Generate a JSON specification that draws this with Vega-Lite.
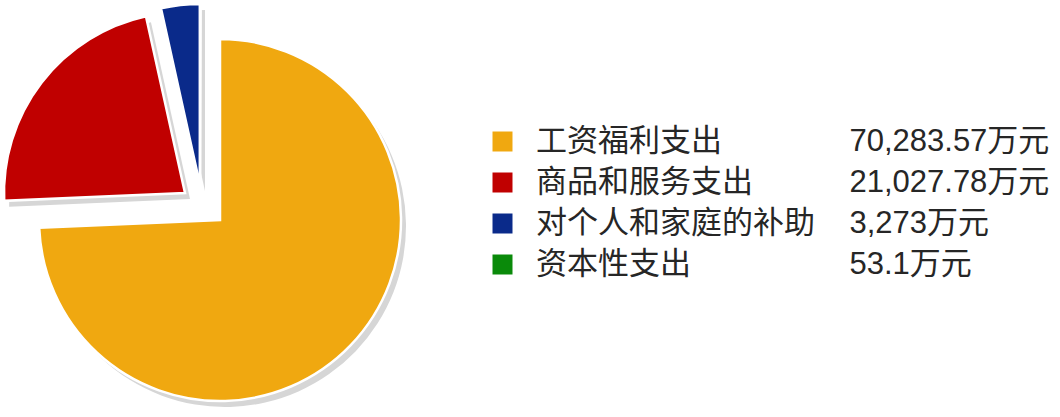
{
  "$schema": "https://vega.github.io/schema/vega-lite/v6.json",
  "width": 440,
  "height": 394,
  "autosize": {"type": "none"},
  "padding": {"left": 0, "top": 23, "right": 620, "bottom": 0},
  "background": "white",
  "view": {"stroke": null},
  "data": {
    "values": [
      {"name": "工资福利支出", "value": 70283.57},
      {"name": "商品和服务支出", "value": 21027.78},
      {"name": "对个人和家庭的补助", "value": 3273},
      {"name": "资本性支出", "value": 53.1}
    ]
  },
  "transform": [
    {"stack": "value", "groupby": [], "sort": [{"field": "value", "order": "descending"}], "as": ["v0", "v1"]},
    {"calculate": "pad(datum.name, 9, '\u3000') + '\u00a0\u00a0\u00a0\u00a0' + format(datum.value, ',') + '万元'", "as": "label"}
  ],
  "encoding": {
    "theta": {"field": "v0", "type": "quantitative"},
    "theta2": {"field": "v1"},
    "color": {
      "field": "label",
      "type": "nominal",
      "sort": {"field": "value", "op": "max", "order": "descending"},
      "scale": {"range": ["#F0A810", "#C00000", "#0A2A8A", "#0A8A0A"]},
      "legend": {
        "orient": "none",
        "legendX": 487,
        "legendY": 103,
        "title": null,
        "symbolType": "square",
        "symbolSize": 400,
        "symbolStrokeWidth": 0,
        "symbolOpacity": 1,
        "labelFont": "Liberation Sans, Noto Sans CJK SC",
        "labelFontSize": 31,
        "labelColor": "#262626",
        "labelOffset": 18,
        "labelLimit": 1000,
        "rowPadding": 9,
        "padding": 0
      }
    }
  },
  "layer": [
    {
      "transform": [{"filter": "datum.name === '工资福利支出'"}],
      "mark": {"type": "arc", "outerRadius": 181, "xOffset": 5, "yOffset": 6},
      "encoding": {"color": {"value": "#D6D6D6"}}
    },
    {
      "transform": [{"filter": "datum.name === '商品和服务支出'"}],
      "mark": {"type": "arc", "outerRadius": 181, "xOffset": -30, "yOffset": -21},
      "encoding": {"color": {"value": "#D6D6D6"}}
    },
    {
      "transform": [{"filter": "datum.name === '对个人和家庭的补助'"}],
      "mark": {"type": "arc", "outerRadius": 181, "xOffset": -15, "yOffset": -29},
      "encoding": {"color": {"value": "#D6D6D6"}}
    },
    {
      "transform": [{"filter": "datum.name === '工资福利支出'"}],
      "mark": {"type": "arc", "outerRadius": 181, "stroke": "white", "strokeWidth": 2.5}
    },
    {
      "transform": [{"filter": "datum.name === '商品和服务支出'"}],
      "mark": {"type": "arc", "outerRadius": 181, "stroke": "white", "strokeWidth": 2.5, "xOffset": -35, "yOffset": -27}
    },
    {
      "transform": [{"filter": "datum.name === '对个人和家庭的补助' || datum.name === '资本性支出'"}],
      "mark": {"type": "arc", "outerRadius": 181, "stroke": "white", "strokeWidth": 2.5, "xOffset": -20, "yOffset": -35}
    }
  ]
}
